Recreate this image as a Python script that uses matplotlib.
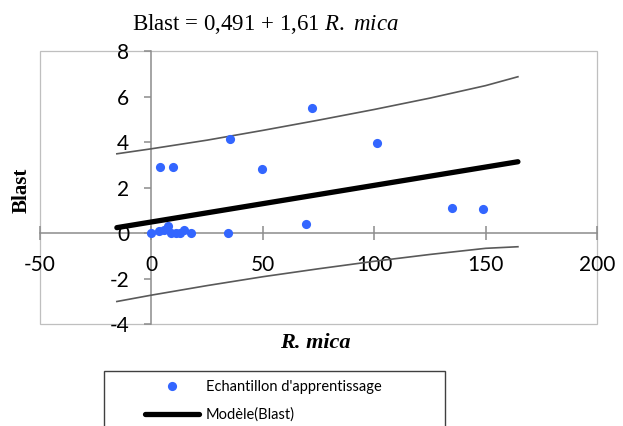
import matplotlib
matplotlib.use("Agg")
import matplotlib.pyplot as plt
from matplotlib.patches import Rectangle

plt.rcParams['mathtext.fontset'] = 'custom'
plt.rcParams['mathtext.rm'] = 'Liberation Serif'
plt.rcParams['mathtext.it'] = 'Liberation Serif:italic'
plt.rcParams['mathtext.bf'] = 'Liberation Serif:bold'

# points de l'echantillon d'apprentissage
mica = [0, 3.4, 5.7, 7.5, 8.7, 10.9, 12.8, 14.6, 17.6, 34.6, 69.3,
        3.9, 9.7, 35.3, 49.5, 72.3, 101.1, 134.8, 148.8]
blast = [0, 0.1, 0.15, 0.3, 0, 0, 0, 0.15, 0, 0, 0.4,
         2.93, 2.89, 4.15, 2.84, 5.51, 3.96, 1.11, 1.07]

# droite du modele
modele_x = [-15.5, 164.5]
modele_y = [0.24, 3.14]

# intervalle de confiance (observations)
bande_x = [-15.5, 0, 25, 50, 75, 100, 125, 150, 164.5]
bande_haut = [3.49, 3.71, 4.09, 4.52, 4.97, 5.44, 5.94, 6.49, 6.88]
bande_bas = [-3.01, -2.73, -2.31, -1.92, -1.57, -1.24, -0.94, -0.67, -0.60]

x_ticks = [-50, 0, 50, 100, 150, 200]
y_ticks = [-4, -2, 0, 2, 4, 6, 8]

fig = plt.figure(figsize=(6.23, 4.26), dpi=100)
ax = fig.add_axes([40/623, 102/426, 557/623, 272.7/426])
ax.set_xlim(-50, 200)
ax.set_ylim(-4, 8)

pts, = ax.plot(mica, blast, 'o', color='#3366ff', markersize=6.6,
               markeredgewidth=0, zorder=3, label="Echantillon d'apprentissage")
mod, = ax.plot(modele_x, modele_y, color='black', linewidth=3.8,
               solid_capstyle='round', zorder=4, label='Modèle(Blast)')
ax.plot(bande_x, bande_haut, color='#595959', linewidth=1.2, zorder=2)
ax.plot(bande_x, bande_bas, color='#595959', linewidth=1.2, zorder=2)

# axes qui se croisent en zero
for s in ['top', 'right']:
    ax.spines[s].set_visible(False)
ax.spines['left'].set_position(('data', 0))
ax.spines['bottom'].set_position(('data', 0))
for s in ['left', 'bottom']:
    ax.spines[s].set_color('#8c8c8c')
    ax.spines[s].set_linewidth(1.1)
    ax.spines[s].set_zorder(1)

ax.add_patch(Rectangle((0, 0), 1, 1, transform=ax.transAxes, fill=False,
                       edgecolor='#bfbfbf', linewidth=0.9, zorder=0, clip_on=False))

ax.set_xticks(x_ticks)
ax.set_yticks(y_ticks)
ax.set_xticklabels([str(v) for v in x_ticks], fontfamily='Lato', fontsize=15)
ax.set_yticklabels([str(v) for v in y_ticks], fontfamily='Lato', fontsize=15)
ax.tick_params(axis='x', direction='inout', length=10, width=1.1, color='#8c8c8c', pad=11)
ax.tick_params(axis='y', direction='out', length=5, width=1.1, color='#8c8c8c', pad=11)

fig.text(266/623, 1 - 24/426, r'Blast = 0,491 + 1,61 $\mathit{R.\ mica}$',
         fontfamily='Liberation Serif', fontsize=16.5, ha='center', va='center')
fig.text(22/623, 1 - 190/426, 'Blast', fontfamily='Liberation Serif', fontsize=15,
         fontweight='bold', rotation=90, ha='center', va='center')
fig.text(315/623, 1 - 343/426, 'R. mica', fontfamily='Liberation Serif', fontsize=16,
         fontweight='bold', fontstyle='italic', ha='center', va='center')

# legende (coupee en bas comme dans l'original)
fig.patches.append(Rectangle((104/623, -0.2), 341/623, 0.2 + 55/426,
                             transform=fig.transFigure, fill=False,
                             edgecolor='#404040', linewidth=1.0))
fig.legend(handles=[pts, mod], loc='upper left',
           bbox_to_anchor=(145/623, 1 - 380/426), frameon=False,
           borderpad=0, borderaxespad=0, handlelength=3.7, handletextpad=0.45,
           labelspacing=0.95, prop={'family': 'Lato', 'size': 10.5}, numpoints=1)

fig.savefig('out.png', dpi=100)
